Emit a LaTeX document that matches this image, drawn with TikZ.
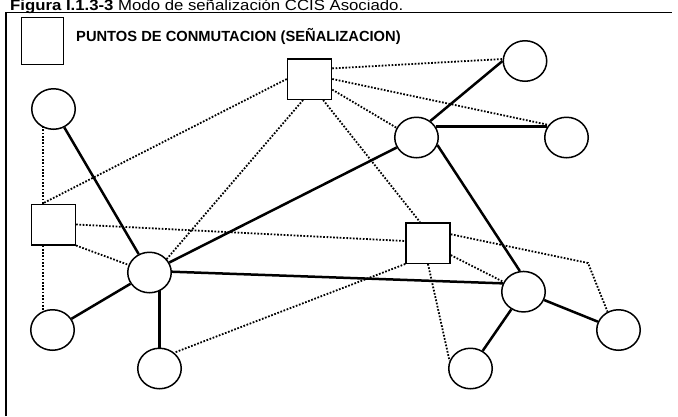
\documentclass[tikz,border=0pt]{standalone}
\usepackage{fontspec}
\setmainfont{Liberation Sans}
\usetikzlibrary{shapes.geometric,backgrounds}
\begin{document}
\begin{tikzpicture}[x=1pt,y=-1pt,
  sq/.style={draw, rectangle, line width=1.5pt, fill=white, minimum width=44pt, minimum height=40.5pt, inner sep=0pt},
  nd/.style={draw, ellipse, line width=1.5pt, fill=white, minimum width=43.5pt, minimum height=40.5pt, inner sep=0pt},
  link/.style={line width=2.5pt},
  sig/.style={line width=1.8pt, dash pattern=on 1.7pt off 1.6pt}]
\useasboundingbox (0,0) rectangle (678,416);
% frame
\draw[line width=1.8pt] (6,416) -- (6,12.5) -- (672,12.5);
% title
\node[anchor=base west, inner sep=0pt] (title) at (10,10.9) {\resizebox{393pt}{\height}{\fontsize{15}{17}\selectfont\textbf{Figura I.1.3-3} Modo de señalización CCIS Asociado.}};
% legend
\node[sq, minimum width=42pt, minimum height=47pt] (lg) at (42.5,41) {};
\node[anchor=base west, font=\bfseries\fontsize{14.7}{17}\selectfont, inner sep=0pt] (lgt) at (76,41) {PUNTOS DE CONMUTACION (SEÑALIZACION)};
% signalling points
\node[sq] (sqT) at (309.5,79) {};
\node[sq] (sqL) at (53.3,224.5) {};
\node[sq] (sqM) at (428,243) {};
% exchanges
\node[nd] (cTL) at (53.5,109) {};
\node[nd] (cC)  at (149.5,272.5) {};
\node[nd] (cBL) at (52.5,330) {};
\node[nd] (cB)  at (159.5,368.5) {};
\node[nd] (cH)  at (416.5,137.5) {};
\node[nd] (cTR) at (525,61) {};
\node[nd] (cR)  at (566.5,137.5) {};
\node[nd] (cLR) at (523.5,291.7) {};
\node[nd] (cFR) at (618.5,330) {};
\node[nd] (cBR) at (470.5,368.5) {};
\coordinate (bend) at (588,263);
\begin{scope}[on background layer]
% solid links
\draw[link] (cTL) -- (cC);
\draw[link] (cC) -- (cH);
\draw[link] (cC.2) -- (cLR.158);
\draw[link] (cC) -- (cBL);
\draw[link] (cB.center) -- (cB.center |- cC.center);
\draw[link] (cH.50) -- (cTR.west);
\draw[link] (cH.30) -- (cR.150);
\draw[link] (cH.-20) -- (cLR.100);
\draw[link] (cLR) -- (cFR);
\draw[link] (cLR) -- (cBR);
% signalling links
\draw[sig] (sqT.25) -- (cTR.175);
\draw[sig] (sqT.east) -- (cR.145);
\draw[sig] (sqT.-25) -- (cH.154);
\draw[sig] (sqT.-57) -- (sqM.111);
\draw[sig] (sqT.-107) -- (cC.38);
\draw[sig] (sqT.west) -- (sqL.117);
\draw[sig] (sqL.117) -- (sqL.117 |- cTL.center);
\draw[sig] (sqL.-117) -- (sqL.-117 |- cBL.center);
\draw[sig] (sqL.east) -- (sqM.175);
\draw[sig] (sqL.south east) -- (cC.160);
\draw[sig] (sqM.south west) -- (cB.47);
\draw[sig] (sqM.south) -- (cBR.160);
\draw[sig] (sqM.-28) -- (cLR.154);
\draw[sig] (sqM.21) -- (bend) -- (cFR.121);
\end{scope}
\end{tikzpicture}
\end{document}
